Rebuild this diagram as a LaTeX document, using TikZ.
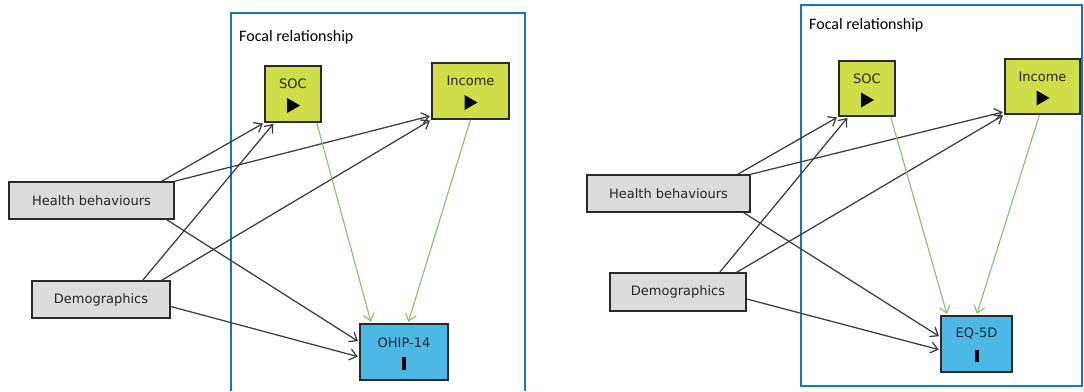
\documentclass[tikz,border=0pt]{standalone}
\usepackage{fontspec}
\setmainfont{DejaVu Sans}
\newfontfamily\focalfont{Carlito}
\usetikzlibrary{arrows.meta,calc}
\definecolor{framebl}{HTML}{1B74C0}
\definecolor{boxline}{HTML}{2A2A2A}
\definecolor{greyfill}{HTML}{DCDCDC}
\definecolor{medfill}{HTML}{CEDD48}
\definecolor{outfill}{HTML}{4DB8E6}
\definecolor{linkcol}{HTML}{3C3C3C}
\definecolor{greencol}{HTML}{86C266}
\definecolor{labeltext}{HTML}{262626}
\begin{document}
\begin{tikzpicture}[x=1pt,y=-1pt,
  box/.style={draw=boxline,line width=1.5pt,inner sep=0pt,
    font=\fontsize{13}{15}\selectfont,text=labeltext},
  greybox/.style={box,fill=greyfill},
  medbox/.style={box,fill=medfill},
  outbox/.style={box,fill=outfill},
  lbl/.style={inner sep=0pt,font=\fontsize{13}{15}\selectfont,text=labeltext},
  link/.style={draw=linkcol,line width=1.25pt,shorten >=1.5pt,
    -{Straight Barb[length=7pt,width=11pt,line width=1.25pt]}},
  glink/.style={draw=greencol,line width=1.1pt,shorten >=1.5pt,
    -{Straight Barb[length=7pt,width=11pt,line width=1.1pt]}},
  framebox/.style={draw=framebl,line width=1.8pt},
  focal/.style={anchor=west,inner sep=0pt,font=\focalfont\fontsize{16}{18}\selectfont}]
\useasboundingbox[fill=white] (0,0) rectangle (1084,391);

% ---------- left model: OHIP-14 ----------
\draw[framebox] (231,391) -- (231,13) -- (525,13) -- (525,391);
\node[focal] (focalA) at (239,37) {Focal relationship};

\node[medbox,minimum width=56pt,minimum height=56pt] (soc) at (293,94) {};
\node[lbl] (socT) at ($(soc.center)+(0,-10)$) {SOC};
\fill ($(soc.center)+(-6,4)$) -- ++(13,7.5) -- ++(-13,7.5) -- cycle;

\node[medbox,minimum width=77pt,minimum height=56pt] (inc) at (470.5,91) {};
\node[lbl] (incT) at ($(inc.center)+(0,-10)$) {Income};
\fill ($(inc.center)+(-6,4)$) -- ++(13,7.5) -- ++(-13,7.5) -- cycle;

\node[greybox,minimum width=165pt,minimum height=37pt] (hb) at (91.5,200.5) {Health behaviours};
\node[greybox,minimum width=138pt,minimum height=37pt] (dem) at (101,299.5) {Demographics};

\node[outbox,minimum width=88pt,minimum height=56pt] (ohip) at (404,352) {};
\node[lbl] (ohipT) at ($(ohip.center)+(0,-9)$) {OHIP-14};
\fill ($(ohip.center)+(-2,5)$) rectangle ++(4,13);

\draw[link] ([xshift=-13pt]hb.north east) -- (soc.south west);
\draw[link] (hb.north east) -- ([yshift=4pt]inc.south west);
\draw[link] ([xshift=-8pt]hb.south east) -- ([yshift=10pt]ohip.west);
\draw[link] ([xshift=-28pt]dem.north east) -- ([xshift=10pt]soc.south west);
\draw[link] ([xshift=-9pt]dem.north east) -- (inc.south west);
\draw[link] ([yshift=-7pt]dem.east) -- ([yshift=-5pt]ohip.west);
\draw[glink] ([xshift=-5pt]soc.south east) -- ([xshift=12pt]ohip.north west);
\draw[glink] (inc.south) -- ([xshift=4pt]ohip.north);

% ---------- right model: EQ-5D ----------
\draw[framebox] (801,5) rectangle (1082,386);
\node[focal] (focalB) at (809,25) {Focal relationship};

\node[medbox,minimum width=56pt,minimum height=55pt] (soc2) at (867,88.5) {};
\node[lbl] (soc2T) at ($(soc2.center)+(0,-10)$) {SOC};
\fill ($(soc2.center)+(-6,4)$) -- ++(13,7.5) -- ++(-13,7.5) -- cycle;

\node[medbox,minimum width=75pt,minimum height=55pt] (inc2) at (1042.5,86.5) {};
\node[lbl] (inc2T) at ($(inc2.center)+(0,-10)$) {Income};
\fill ($(inc2.center)+(-6,4)$) -- ++(13,7.5) -- ++(-13,7.5) -- cycle;

\node[greybox,minimum width=163pt,minimum height=37pt] (hb2) at (668.5,193.5) {Health behaviours};
\node[greybox,minimum width=136pt,minimum height=38pt] (dem2) at (678,292) {Demographics};

\node[outbox,minimum width=71pt,minimum height=56pt] (eq) at (976.5,344) {};
\node[lbl] (eqT) at ($(eq.center)+(0,-10)$) {EQ-5D};
\fill ($(eq.center)+(-2,6)$) rectangle ++(4,12);

\draw[link] ([xshift=-13pt]hb2.north east) -- (soc2.south west);
\draw[link] (hb2.north east) -- ([yshift=3pt]inc2.south west);
\draw[link] ([xshift=-7pt]hb2.south east) -- ([yshift=7pt]eq.west);
\draw[link] ([xshift=-27pt]dem2.north east) -- ([xshift=10pt]soc2.south west);
\draw[link] ([xshift=-10pt]dem2.north east) -- (inc2.south west);
\draw[link] ([yshift=-7pt]dem2.east) -- ([yshift=-6pt]eq.west);
\draw[glink] ([xshift=-5pt]soc2.south east) -- ([xshift=7pt]eq.north west);
\draw[glink] ([xshift=-3pt]inc2.south) -- (eq.north);
\end{tikzpicture}
\end{document}
